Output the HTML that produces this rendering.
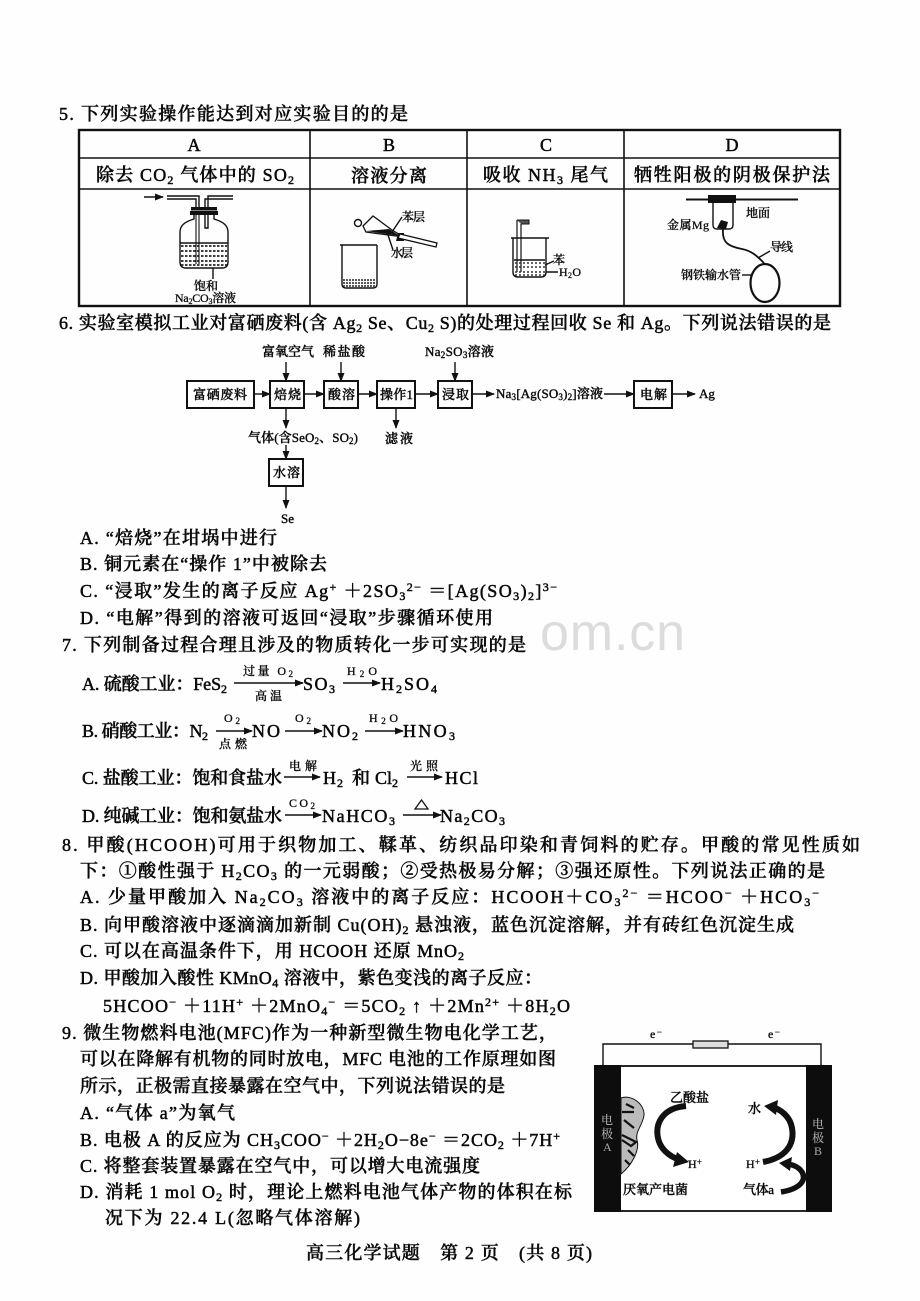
<!DOCTYPE html>
<html><head><meta charset="utf-8"><style>
html,body{margin:0;padding:0;background:#fefefe;width:920px;height:1301px;overflow:hidden}
svg{display:block;filter:blur(.35px)}
text{font-family:"Liberation Serif","Noto Serif CJK SC",serif;fill:#0a0a0a;stroke:#0a0a0a;stroke-width:.5;font-size:18px;font-weight:500;white-space:pre}
.s{font-size:12px}
.f{font-size:12px;stroke-width:.3}
.g{font-size:13px;stroke-width:.4}
.l{stroke:#111;stroke-width:1.4;fill:none}
</style></head><body>
<svg width="920" height="1301" viewBox="0 0 920 1301" xmlns="http://www.w3.org/2000/svg">
<defs>
<marker id="ar" markerWidth="9" markerHeight="7" refX="8" refY="3.5" orient="auto" markerUnits="userSpaceOnUse"><path d="M0 0L9 3.5L0 7z" fill="#111"/></marker>
</defs>
<text x="540" y="650" style="font-family:'Liberation Sans',sans-serif;font-size:52px;font-weight:400;fill:#dcdcdc;stroke:none" textLength="145">om.cn</text>

<text x="59" y="120" textLength="349">5. 下列实验操作能达到对应实验目的的是</text>
<rect x="79" y="130" width="761" height="176" fill="none" stroke="#111" stroke-width="2.4"/>
<path d="M79 158H840M79 189H840M310 130V306M467 130V306M624 130V306" stroke="#111" stroke-width="1.6" fill="none"/>
<g text-anchor="middle"><text x="194" y="151">A</text><text x="389" y="151">B</text><text x="546" y="151">C</text><text x="732" y="151">D</text></g>
<text x="96" y="181" textLength="198">除去 CO<tspan class="s" dy="3">2</tspan><tspan dy="-3"> 气体中的 SO</tspan><tspan class="s" dy="3">2</tspan></text>
<text x="351" y="182" textLength="76">溶液分离</text>
<text x="483" y="181" textLength="125">吸收 NH<tspan class="s" dy="3">3</tspan><tspan dy="-3"> 尾气</tspan></text>
<text x="634" y="181" textLength="196">牺牲阳极的阴极保护法</text>

<!-- A apparatus -->
<path d="M144 197H163" class="l" marker-end="url(#ar)"/>
<path d="M167 196H199V208M167 199H196V208M205 208V199H233M208 208V196H233" fill="none" stroke="#111" stroke-width="1.4"/>
<rect x="191" y="207" width="26" height="3.500" fill="#111"/><rect x="190" y="211" width="28" height="4" fill="#111"/>
<path d="M194 215V219C184 222 180 226 180 232V262Q180 268 186 268H222Q228 268 228 262V232C228 226 224 222 214 219V215" class="l"/>
<path d="M180 243H228" class="l"/>
<path d="M181 246H227M181 251H227M181 256H227M181 261H227M181 265H227" stroke="#222" stroke-width="1.7" stroke-dasharray="2.500 1.500" fill="none"/>
<path d="M196 215V264M199 215V264" stroke="#111" stroke-width="1.1" fill="none"/>
<path d="M205 215V228H208V215" class="l"/>
<path d="M213 268V279" class="l"/>
<text class="f" x="194" y="290" textLength="24">饱和</text>
<text class="f" x="175" y="302" textLength="61">Na<tspan dy="2" font-size="8">2</tspan><tspan dy="-2">CO</tspan><tspan dy="2" font-size="8">3</tspan><tspan dy="-2">溶液</tspan></text>

<!-- B apparatus -->
<path d="M340 245H377M342 245V284Q342 288 346 288H373Q377 288 377 284V245" class="l"/>
<path d="M343 280H376M343 283H376M343 286H376" stroke="#222" stroke-width="1.600" stroke-dasharray="2 1"/>
<path d="M363 226L373 216L392 230L402 236L396 236L366 232Z" fill="#fff" stroke="#111" stroke-width="1.3"/>
<path d="M366 231L389 229L400 236Z" fill="#111"/>
<circle cx="358" cy="223" r="3.500" class="l"/>
<path d="M398 233L404 233L404 241L396 241Z" fill="#111"/>
<path d="M400 234L437 243L436 247L398 238Z" fill="#fff" stroke="#111" stroke-width="1.3"/>
<path d="M392 232L402 217M387 232L393 250" class="l" stroke-width="1"/>
<text class="f" x="402" y="221" textLength="23">苯层</text>
<text class="f" x="391" y="257" textLength="22">水层</text>

<!-- C apparatus -->
<path d="M511 238H549M513 238V272Q513 277 518 277H541Q546 277 546 272V238" class="l"/>
<path d="M517 220V272M521 224V272" stroke="#111" stroke-width="1.2" fill="none"/>
<path d="M517 220H529V224H521" fill="#555" stroke="#111" stroke-width="1"/>
<path d="M514 260H545" class="l"/>
<path d="M515 263H545M515 267H545" stroke="#333" stroke-width="1.500" stroke-dasharray="2 2"/>
<path d="M515 272H545M515 275H545" stroke="#333" stroke-width="1.500" stroke-dasharray="2 2"/>
<path d="M545 265L554 261M546 272H558" class="l" stroke-width="1"/>
<text class="f" x="553" y="264">苯</text>
<text class="f" x="559" y="276" textLength="22">H<tspan dy="2" font-size="8">2</tspan><tspan dy="-2">O</tspan></text>

<!-- D apparatus -->
<path d="M686 199.500H798" stroke="#111" stroke-width="2" fill="none"/>
<rect x="708" y="195" width="28" height="8" fill="#111"/>
<path d="M713 203V225Q713 229 717 229H729Q733 229 733 225V203" class="l"/>
<path d="M717 228L721 220L728 222L726 229Z" fill="#111"/>
<path d="M723 229C722 242 727 246 742 249C752 251 757 256 764 263" stroke="#111" stroke-width="1.8" fill="none"/>
<path d="M758 258L770 251" class="l" stroke-width="1"/>
<ellipse cx="765" cy="283" rx="14.500" ry="19" fill="none" stroke="#111" stroke-width="2.2"/>
<path d="M742 275H751" class="l" stroke-width="1"/>
<text class="f" x="746" y="217" textLength="24">地面</text>
<text class="f" x="667" y="229" textLength="42">金属Mg</text>
<text class="f" x="770" y="251" textLength="23">导线</text>
<text class="f" x="681" y="279" textLength="60">钢铁输水管</text>

<text x="59" y="329" textLength="772">6. 实验室模拟工业对富硒废料(含 Ag<tspan class="s" dy="3">2</tspan><tspan dy="-3"> Se、Cu</tspan><tspan class="s" dy="3">2</tspan><tspan dy="-3"> S)的处理过程回收 Se 和 Ag。下列说法错误的是</tspan></text>

<!-- flow -->
<g fill="#fff" stroke="#111" stroke-width="2">
<rect x="187" y="381" width="67" height="27"/>
<rect x="270" y="381" width="34" height="27"/>
<rect x="324" y="381" width="34" height="27"/>
<rect x="377" y="381" width="38" height="27"/>
<rect x="438" y="381" width="34" height="27"/>
<rect x="634" y="381" width="38" height="27"/>
<rect x="269" y="459" width="34" height="27"/>
</g>
<text class="g" x="193" y="399" textLength="54">富硒废料</text>
<text class="g" x="274" y="399" textLength="27">焙烧</text>
<text class="g" x="328" y="399" textLength="27">酸溶</text>
<text class="g" x="380" y="399" textLength="33">操作1</text>
<text class="g" x="442" y="399" textLength="27">浸取</text>
<text class="g" x="640" y="399" textLength="27">电解</text>
<text class="g" x="273" y="477" textLength="27">水溶</text>
<text class="g" x="262" y="356" textLength="52">富氧空气</text>
<text class="g" x="323" y="356" textLength="42">稀盐酸</text>
<text class="g" x="425" y="356" textLength="69">Na<tspan dy="2" font-size="9">2</tspan><tspan dy="-2">SO</tspan><tspan dy="2" font-size="9">3</tspan><tspan dy="-2">溶液</tspan></text>
<text class="g" x="496" y="398" textLength="107">Na<tspan dy="2" font-size="9">3</tspan><tspan dy="-2">[Ag(SO</tspan><tspan dy="2" font-size="9">3</tspan><tspan dy="-2">)</tspan><tspan dy="2" font-size="9">2</tspan><tspan dy="-2">]溶液</tspan></text>
<text class="g" x="699" y="398">Ag</text>
<text class="g" x="248" y="442" textLength="110">气体(含SeO<tspan dy="2" font-size="9">2</tspan><tspan dy="-2">、SO</tspan><tspan dy="2" font-size="9">2</tspan><tspan dy="-2">)</tspan></text>
<text class="g" x="385" y="443" textLength="28">滤液</text>
<text class="g" x="281" y="523">Se</text>
<path d="M254 394H270" class="l" marker-end="url(#ar)"/>
<path d="M304 394H324" class="l" marker-end="url(#ar)"/>
<path d="M358 394H377" class="l" marker-end="url(#ar)"/>
<path d="M415 394H438" class="l" marker-end="url(#ar)"/>
<path d="M472 394H494" class="l" marker-end="url(#ar)"/>
<path d="M604 394H634" class="l" marker-end="url(#ar)"/>
<path d="M672 394H695" class="l" marker-end="url(#ar)"/>
<path d="M286 362V381" class="l" marker-end="url(#ar)"/>
<path d="M341 362V381" class="l" marker-end="url(#ar)"/>
<path d="M455 362V381" class="l" marker-end="url(#ar)"/>
<path d="M286 408V428" class="l" marker-end="url(#ar)"/>
<path d="M396 408V428" class="l" marker-end="url(#ar)"/>
<path d="M286 445V459" class="l" marker-end="url(#ar)"/>
<path d="M286 486V508" class="l" marker-end="url(#ar)"/>

<text x="80" y="544" textLength="197">A. “焙烧”在坩埚中进行</text>
<text x="80" y="570" textLength="247">B. 铜元素在“操作 1”中被除去</text>
<text x="80" y="597" textLength="477">C. “浸取”发生的离子反应 Ag<tspan class="s" dy="-6">+</tspan><tspan dy="6"> ＋2SO</tspan><tspan class="s" dy="3">3</tspan><tspan class="s" dy="-9">2−</tspan><tspan dy="6"> ＝[Ag(SO</tspan><tspan class="s" dy="3">3</tspan><tspan dy="-3">)</tspan><tspan class="s" dy="3">2</tspan><tspan dy="-3">]</tspan><tspan class="s" dy="-6">3−</tspan></text>
<text x="80" y="624" textLength="413">D. “电解”得到的溶液可返回“浸取”步骤循环使用</text>
<text x="62" y="651" textLength="464">7. 下列制备过程合理且涉及的物质转化一步可实现的是</text>

<text x="82" y="690" textLength="145">A. 硫酸工业：FeS<tspan class="s" dy="3">2</tspan></text>
<path d="M234 683H303" class="l" marker-end="url(#ar)"/>
<text class="f" x="243" y="675" textLength="50">过量 O<tspan dy="2" font-size="9">2</tspan></text>
<text class="f" x="255" y="700" textLength="27">高温</text>
<text x="303" y="690" textLength="32">SO<tspan class="s" dy="3">3</tspan></text>
<path d="M343 683H380" class="l" marker-end="url(#ar)"/>
<text class="f" x="347" y="675" textLength="30">H<tspan dy="2" font-size="9">2</tspan><tspan dy="-2">O</tspan></text>
<text x="381" y="690" textLength="56">H<tspan class="s" dy="3">2</tspan><tspan dy="-3">SO</tspan><tspan class="s" dy="3">4</tspan></text>

<text x="82" y="737" textLength="126">B. 硝酸工业：N<tspan class="s" dy="3">2</tspan></text>
<path d="M216 731H252" class="l" marker-end="url(#ar)"/>
<text class="f" x="224" y="722" textLength="16">O<tspan dy="2" font-size="9">2</tspan></text>
<text class="f" x="219" y="748" textLength="28">点燃</text>
<text x="252" y="737" textLength="28">NO</text>
<path d="M285 731H322" class="l" marker-end="url(#ar)"/>
<text class="f" x="295" y="722" textLength="16">O<tspan dy="2" font-size="9">2</tspan></text>
<text x="322" y="737" textLength="36">NO<tspan class="s" dy="3">2</tspan></text>
<path d="M365 731H403" class="l" marker-end="url(#ar)"/>
<text class="f" x="369" y="722" textLength="29">H<tspan dy="2" font-size="9">2</tspan><tspan dy="-2">O</tspan></text>
<text x="403" y="737" textLength="52">HNO<tspan class="s" dy="3">3</tspan></text>

<text x="82" y="784" textLength="200">C. 盐酸工业：饱和食盐水</text>
<path d="M284 777H320" class="l" marker-end="url(#ar)"/>
<text class="f" x="289" y="770" textLength="28">电解</text>
<text x="323" y="784" textLength="20">H<tspan class="s" dy="3">2</tspan></text>
<text x="352" y="784">和</text>
<text x="375" y="784" textLength="23">Cl<tspan class="s" dy="3">2</tspan></text>
<path d="M407 777H442" class="l" marker-end="url(#ar)"/>
<text class="f" x="410" y="770" textLength="28">光照</text>
<text x="445" y="784" textLength="33">HCl</text>

<text x="82" y="822" textLength="200">D. 纯碱工业：饱和氨盐水</text>
<path d="M285 815H321" class="l" marker-end="url(#ar)"/>
<text class="f" x="289" y="807" textLength="26">CO<tspan dy="2" font-size="9">2</tspan></text>
<text x="322" y="822" textLength="73">NaHCO<tspan class="s" dy="3">3</tspan></text>
<path d="M403 815H441" class="l" marker-end="url(#ar)"/>
<path d="M415 809L421.500 800L428 809Z" fill="none" stroke="#111" stroke-width="1.300"/>
<text x="440" y="822" textLength="65">Na<tspan class="s" dy="3">2</tspan><tspan dy="-3">CO</tspan><tspan class="s" dy="3">3</tspan></text>

<text x="62" y="851" textLength="798">8. 甲酸(HCOOH)可用于织物加工、鞣革、纺织品印染和青饲料的贮存。甲酸的常见性质如</text>
<text x="80" y="877" textLength="745">下：①酸性强于 H<tspan class="s" dy="3">2</tspan><tspan dy="-3">CO</tspan><tspan class="s" dy="3">3</tspan><tspan dy="-3"> 的一元弱酸；②受热极易分解；③强还原性。下列说法正确的是</tspan></text>
<text x="80" y="903" textLength="739">A. 少量甲酸加入 Na<tspan class="s" dy="3">2</tspan><tspan dy="-3">CO</tspan><tspan class="s" dy="3">3</tspan><tspan dy="-3"> 溶液中的离子反应：HCOOH＋CO</tspan><tspan class="s" dy="3">3</tspan><tspan class="s" dy="-9">2−</tspan><tspan dy="6"> ＝HCOO</tspan><tspan class="s" dy="-6">−</tspan><tspan dy="6"> ＋HCO</tspan><tspan class="s" dy="3">3</tspan><tspan class="s" dy="-9">−</tspan></text>
<text x="80" y="931" textLength="714">B. 向甲酸溶液中逐滴滴加新制 Cu(OH)<tspan class="s" dy="3">2</tspan><tspan dy="-3"> 悬浊液，蓝色沉淀溶解，并有砖红色沉淀生成</tspan></text>
<text x="80" y="957" textLength="384">C. 可以在高温条件下，用 HCOOH 还原 MnO<tspan class="s" dy="3">2</tspan></text>
<text x="80" y="984" textLength="462">D. 甲酸加入酸性 KMnO<tspan class="s" dy="3">4</tspan><tspan dy="-3"> 溶液中，紫色变浅的离子反应：</tspan></text>
<text x="103" y="1012" textLength="467">5HCOO<tspan class="s" dy="-6">−</tspan><tspan dy="6"> ＋11H</tspan><tspan class="s" dy="-6">+</tspan><tspan dy="6"> ＋2MnO</tspan><tspan class="s" dy="3">4</tspan><tspan class="s" dy="-9">−</tspan><tspan dy="6"> ＝5CO</tspan><tspan class="s" dy="3">2</tspan><tspan dy="-3"> ↑ ＋2Mn</tspan><tspan class="s" dy="-6">2+</tspan><tspan dy="6"> ＋8H</tspan><tspan class="s" dy="3">2</tspan><tspan dy="-3">O</tspan></text>

<text x="62" y="1039" textLength="495">9. 微生物燃料电池(MFC)作为一种新型微生物电化学工艺，</text>
<text x="80" y="1065" textLength="476">可以在降解有机物的同时放电，MFC 电池的工作原理如图</text>
<text x="80" y="1092" textLength="425">所示，正极需直接暴露在空气中，下列说法错误的是</text>
<text x="80" y="1119" textLength="155">A. “气体 a”为氧气</text>
<text x="80" y="1146" textLength="480">B. 电极 A 的反应为 CH<tspan class="s" dy="3">3</tspan><tspan dy="-3">COO</tspan><tspan class="s" dy="-6">−</tspan><tspan dy="6"> ＋2H</tspan><tspan class="s" dy="3">2</tspan><tspan dy="-3">O−8e</tspan><tspan class="s" dy="-6">−</tspan><tspan dy="6"> ＝2CO</tspan><tspan class="s" dy="3">2</tspan><tspan dy="-3"> ＋7H</tspan><tspan class="s" dy="-6">+</tspan></text>
<text x="80" y="1172" textLength="400">C. 将整套装置暴露在空气中，可以增大电流强度</text>
<text x="80" y="1198" textLength="492">D. 消耗 1 mol O<tspan class="s" dy="3">2</tspan><tspan dy="-3"> 时，理论上燃料电池气体产物的体积在标</tspan></text>
<text x="105" y="1224" textLength="255">况下为 22.4 L(忽略气体溶解)</text>

<!-- fuel cell -->
<path d="M603 1065V1044H693M728 1044H821V1065" class="l"/>
<rect x="693" y="1041" width="35" height="7" fill="#ddd" stroke="#111" stroke-width="1.300"/>
<text class="f" x="650" y="1038" textLength="12">e<tspan font-size="9" dy="-3">−</tspan></text>
<text class="f" x="768" y="1038" textLength="12">e<tspan font-size="9" dy="-3">−</tspan></text>
<rect x="595" y="1066" width="236" height="145" fill="#fff" stroke="#111" stroke-width="1.800"/>
<rect x="594" y="1065" width="27" height="147" fill="#0d0d0d"/>
<rect x="806" y="1065" width="26" height="147" fill="#0d0d0d"/>
<g>
<text class="f" x="601" y="1124" style="fill:#aaa;stroke:none">电</text><text class="f" x="601" y="1138" style="fill:#aaa;stroke:none">极</text><text class="f" x="603" y="1151" style="fill:#aaa;stroke:none">A</text>
<text class="f" x="812" y="1128" style="fill:#aaa;stroke:none">电</text><text class="f" x="812" y="1142" style="fill:#aaa;stroke:none">极</text><text class="f" x="814" y="1155" style="fill:#aaa;stroke:none">B</text>
</g>
<path d="M621 1098C632 1094 645 1105 644 1115C643 1125 635 1131 637 1140C640 1150 632 1165 621 1174Z" fill="#bbb" stroke="#111" stroke-width="1"/>
<path d="M622 1112H634M624 1120L634 1128M622 1135L636 1142L631 1146L622 1140M628 1150L634 1156M625 1160L630 1165M626 1104L634 1108" stroke="#111" stroke-width="2.200" fill="none"/>
<path d="M686 1106C662 1108 655 1124 658 1138C660 1148 668 1156 680 1160" fill="none" stroke="#111" stroke-width="6"/>
<path d="M677 1152L689 1162L673 1167Z" fill="#111"/>
<path d="M763 1162C785 1158 795 1145 792 1128C790 1116 780 1109 772 1107" fill="none" stroke="#111" stroke-width="6"/>
<path d="M764 1106L778 1100L776 1115Z" fill="#111"/>
<path d="M781 1192C800 1189 807 1180 802 1172C798 1166 791 1164 785 1164" fill="none" stroke="#111" stroke-width="5.500"/>
<path d="M779 1163L792 1157L790 1171Z" fill="#111"/>
<text class="g" x="670" y="1102" textLength="39">乙酸盐</text>
<text class="g" x="748" y="1113">水</text>
<text class="f" x="688" y="1168" textLength="14">H<tspan font-size="9" dy="-3">+</tspan></text>
<text class="f" x="746" y="1168" textLength="14">H<tspan font-size="9" dy="-3">+</tspan></text>
<text class="g" x="623" y="1194" textLength="65">厌氧产电菌</text>
<text class="g" x="743" y="1194" textLength="31">气体a</text>

<text x="306" y="1259" textLength="286">高三化学试题　第 2 页　(共 8 页)</text>
</svg>
</body></html>
